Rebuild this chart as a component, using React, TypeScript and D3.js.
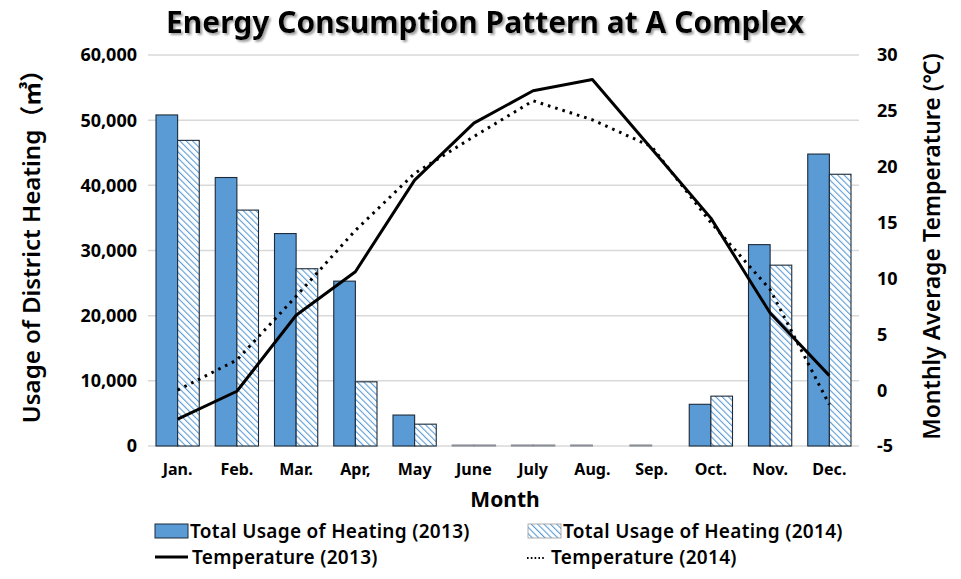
import React from "react";
import * as d3 from "d3";

// Chart values
const months = ["Jan.", "Feb.", "Mar.", "Apr,", "May", "June", "July", "Aug.", "Sep.", "Oct.", "Nov.", "Dec."];
const heating2013 = [50800, 41200, 32600, 25300, 4750, 150, 150, 150, 150, 6400, 30900, 44800];
const heating2014 = [46900, 36200, 27200, 9850, 3350, 150, 150, 0, 0, 7650, 27750, 41700];
const temp2013 = [-2.6, -0.1, 6.7, 10.6, 18.8, 23.9, 26.8, 27.8, 21.6, 15.4, 6.9, 1.3];
const temp2014 = [0, 2.7, 8.4, 14.3, 19.4, 22.7, 25.9, 24.2, 21.8, 15.0, 9.0, -1.3];
const leftTicks = [0, 10000, 20000, 30000, 40000, 50000, 60000];
const rightTicks = [-5, 0, 5, 10, 15, 20, 25, 30];

const W = 961;
const H = 579;
const plot = { left: 148, right: 859, top: 55, bottom: 446 };
const FONT = "'Noto Sans', 'Open Sans', 'Noto Sans CJK KR', sans-serif";
const BLUE = "#5B9BD5";
const EDGE = "#1c2a3a";

const App: React.FC = () => {
	const x = d3
		.scaleBand<string>()
		.domain(months)
		.range([plot.left, plot.right])
		.paddingInner(0.27)
		.paddingOuter(0.135);

	const sub = d3
		.scaleBand<string>()
		.domain(["2013", "2014"])
		.range([0, x.bandwidth()]);

	const yLeft = d3.scaleLinear().domain([0, 60000]).range([plot.bottom, plot.top]);
	const yRight = d3.scaleLinear().domain([-5, 30]).range([plot.bottom, plot.top]);

	const center = (m: string) => (x(m) as number) + x.bandwidth() / 2;

	const tempLine = d3
		.line<number>()
		.x((_, i) => center(months[i]))
		.y((d) => yRight(d));

	const fmt = d3.format(",");

	const bars = (values: number[], key: string, fill: string) =>
		values.map((v, i) => {
			if (v <= 0) return null;
			const x0 = (x(months[i]) as number) + (sub(key) as number);
			return (
				<rect
					key={key + i}
					x={x0}
					y={yLeft(v)}
					width={sub.bandwidth()}
					height={yLeft(0) - yLeft(v)}
					fill={fill}
					stroke={v < 1000 ? "#8a8f96" : EDGE}
					strokeWidth={v < 1000 ? 1.2 : 1.1}
				/>
			);
		});

	return (
		<svg
			width={W}
			height={H}
			style={{ position: "absolute", left: 0, top: 0, background: "#fff" }}
			fontFamily={FONT}
		>
			<defs>
				<pattern
					id="hatch"
					patternUnits="userSpaceOnUse"
					width={4.5}
					height={4.5}
					patternTransform="rotate(-45)"
				>
					<rect width={4.5} height={4.5} fill="#fff" />
					<line x1={0} y1={0} x2={0} y2={4.5} stroke={BLUE} strokeWidth={2.2} />
				</pattern>
				<filter id="shadow" x="-5%" y="-30%" width="110%" height="160%">
					<feDropShadow dx={2} dy={2} stdDeviation={1} floodColor="#888" floodOpacity={0.8} />
				</filter>
			</defs>

			{/* Title */}
			<text
				x={485}
				y={33}
				textAnchor="middle"
				fontSize={30}
				fontWeight="bold"
				fill="#000"
				filter="url(#shadow)"
			>
				Energy Consumption Pattern at A Complex
			</text>

			{/* Gridlines */}
			{leftTicks.map((t) => (
				<line
					key={"g" + t}
					x1={plot.left}
					x2={plot.right}
					y1={yLeft(t)}
					y2={yLeft(t)}
					stroke="#d9d9d9"
					strokeWidth={1.5}
				/>
			))}

			{/* Bars */}
			{bars(heating2013, "2013", BLUE)}
			{bars(heating2014, "2014", "url(#hatch)")}

			{/* Temperature lines */}
			<path d={tempLine(temp2013) || ""} fill="none" stroke="#000" strokeWidth={3} strokeLinejoin="round" />
			<path
				d={tempLine(temp2014) || ""}
				fill="none"
				stroke="#000"
				strokeWidth={3}
				strokeDasharray="2.6 5"
			/>

			{/* Left axis labels */}
			{leftTicks.map((t) => (
				<text
					key={"l" + t}
					x={137}
					y={yLeft(t)}
					dy="0.36em"
					textAnchor="end"
					fontSize={18}
					fontWeight="bold"
				>
					{fmt(t)}
				</text>
			))}

			{/* Right axis labels */}
			{rightTicks.map((t) => (
				<text key={"r" + t} x={877} y={yRight(t)} dy="0.36em" fontSize={18} fontWeight="bold">
					{t}
				</text>
			))}

			{/* Month labels */}
			{months.map((m) => (
				<text key={m} x={center(m)} y={475} textAnchor="middle" fontSize={16} fontWeight="bold">
					{m}
				</text>
			))}

			<text x={505} y={507} textAnchor="middle" fontSize={21} fontWeight="bold">
				Month
			</text>

			{/* Axis titles */}
			<text
				transform={`translate(40,${(plot.top + plot.bottom) / 2 - 10}) rotate(-90)`}
				textAnchor="middle"
				fontSize={24}
				fontWeight={600}
			>
				Usage of District Heating（㎥）
			</text>
			<text
				transform={`translate(940,${(plot.top + plot.bottom) / 2 - 4}) rotate(-90)`}
				textAnchor="middle"
				fontSize={23}
				fontWeight={600}
			>
				Monthly Average Temperature (℃)
			</text>

			{/* Legend */}
			<g fontSize={19} fontWeight={600} letterSpacing={0.3}>
				<rect x={155} y={524} width={33} height={14} fill={BLUE} stroke={EDGE} strokeWidth={1} />
				<text x={190} y={531} dy="0.36em">
					Total Usage of Heating (2013)
				</text>
				<rect x={528} y={524} width={33} height={14} fill="url(#hatch)" stroke="#999" strokeWidth={0.8} />
				<text x={563} y={531} dy="0.36em">
					Total Usage of Heating (2014)
				</text>
				<line x1={155} x2={188} y1={557} y2={557} stroke="#000" strokeWidth={3} />
				<text x={192} y={557} dy="0.36em">
					Temperature (2013)
				</text>
				<line x1={527} x2={545} y1={558} y2={558} stroke="#000" strokeWidth={1.8} strokeDasharray="1.6 2.2" />
				<text x={551} y={557} dy="0.36em">
					Temperature (2014)
				</text>
			</g>
		</svg>
	);
};

export default App;
